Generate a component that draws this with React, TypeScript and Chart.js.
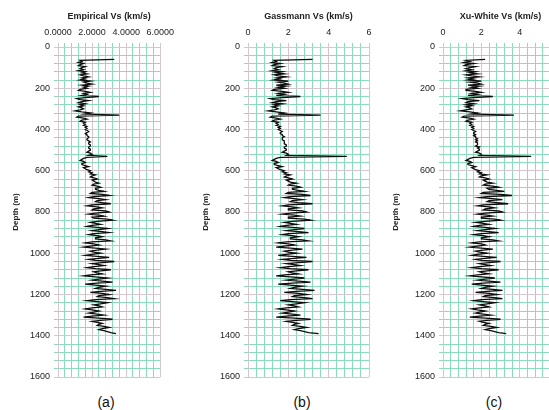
import React, { useEffect, useRef } from "react";
import { Chart, registerables } from "chart.js";

Chart.register(...registerables);

// Sampling depths (m): first sample and spacing of the logged traces
const DEPTH_START = 60;
const DEPTH_STEP = 5;

const DEPTH_TICKS = [0, 200, 400, 600, 800, 1000, 1200, 1400, 1600];
const VS_TICKS = [0, 2, 4, 6];

const PANEL_TITLES = ["Empirical Vs (km/s)", "Gassmann Vs (km/s)", "Xu-White Vs (km/s)"];
const PANEL_LETTERS = ["(a)", "(b)", "(c)"];

// Vs (km/s), 60 m .. 1390 m every 5 m (one row = 50 m)
const empiricalVs = [
  3.3, 1.3, 1.4, 1.2, 1.5, 1.3, 1.2, 1.6, 1.4, 1.3,
  1.5, 1.2, 1.6, 1.4, 1.7, 1.3, 1.5, 1.8, 1.4, 1.6,
  1.3, 1.9, 1.5, 1.7, 2.0, 1.4, 1.8, 1.5, 1.7, 1.3,
  1.2, 1.6, 1.9, 1.5, 1.7, 1.4, 2.4, 1.6, 1.1, 1.3,
  1.8, 1.4, 1.2, 1.6, 1.3, 1.5, 1.2, 1.4, 1.5, 1.3,
  1.0, 1.4, 1.9, 1.6, 3.6, 1.2, 1.1, 1.5, 1.7, 1.4,
  1.3, 1.6, 1.5, 1.6, 1.5, 1.7, 1.6, 1.7, 1.6, 1.7,
  1.8, 1.7, 1.6, 1.7, 1.7, 1.8, 1.8, 1.7, 1.7, 1.8,
  1.9, 1.8, 1.8, 1.9, 1.9, 1.8, 1.8, 1.9, 1.9, 1.8,
  1.7, 1.9, 2.0, 1.8, 2.9, 1.7, 1.5, 1.4, 1.3, 1.5,
  1.6, 1.4, 1.4, 1.6, 1.8, 1.5, 1.6, 1.7, 1.9, 1.8,
  2.0, 1.9, 2.2, 2.0, 1.9, 2.1, 2.3, 2.0, 2.1, 2.2,
  2.4, 2.1, 2.0, 2.3, 2.5, 2.2, 2.2, 2.4, 2.7, 2.0,
  1.9, 2.6, 3.0, 2.1, 1.8, 2.4, 2.8, 2.3, 2.2, 2.6,
  3.1, 2.0, 1.7, 2.3, 2.6, 2.1, 2.0, 2.8, 3.0, 2.2,
  1.8, 2.4, 2.7, 2.0, 2.1, 2.9, 3.2, 2.3, 1.9, 2.2,
  2.5, 2.0, 1.7, 2.3, 2.9, 2.4, 2.0, 2.6, 3.0, 2.1,
  1.8, 2.3, 2.6, 2.2, 2.2, 2.8, 3.1, 2.0, 1.6, 2.1,
  2.4, 1.9, 1.5, 2.2, 2.8, 2.3, 1.9, 2.1, 2.5, 2.0,
  1.6, 2.3, 3.0, 2.4, 1.8, 2.2, 3.3, 2.6, 2.0, 2.4,
  2.7, 2.1, 1.7, 2.2, 3.1, 2.5, 2.1, 2.3, 2.6, 1.9,
  1.5, 2.2, 2.9, 2.4, 2.0, 2.6, 3.2, 2.3, 1.6, 2.2,
  2.8, 2.4, 2.2, 2.8, 3.4, 2.5, 1.9, 2.6, 3.0, 2.4,
  2.3, 2.9, 3.3, 2.2, 1.7, 2.3, 2.9, 2.5, 2.1, 2.4,
  2.6, 2.0, 1.6, 2.0, 2.4, 2.1, 1.8, 2.3, 2.7, 2.0,
  1.5, 2.4, 3.2, 2.5, 2.0, 2.3, 2.6, 2.4, 2.3, 2.7,
  3.0, 2.6, 2.4, 2.7, 2.9, 3.1, 3.4,
];

const gassmannVs = [
  3.2, 1.3, 1.4, 1.2, 1.6, 1.3, 1.2, 1.7, 1.4, 1.3,
  1.5, 1.2, 1.7, 1.4, 1.8, 1.3, 1.5, 1.9, 1.4, 1.6,
  1.3, 2.0, 1.5, 1.8, 2.0, 1.4, 1.9, 1.5, 1.8, 1.3,
  1.2, 1.7, 2.0, 1.5, 1.8, 1.4, 2.6, 1.7, 1.1, 1.3,
  1.9, 1.4, 1.2, 1.7, 1.3, 1.5, 1.2, 1.4, 1.5, 1.3,
  1.0, 1.4, 1.8, 1.5, 3.6, 1.2, 1.1, 1.4, 1.6, 1.3,
  1.2, 1.5, 1.4, 1.5, 1.4, 1.6, 1.5, 1.6, 1.5, 1.6,
  1.7, 1.6, 1.6, 1.7, 1.7, 1.8, 1.7, 1.7, 1.7, 1.8,
  1.8, 1.8, 1.8, 1.9, 1.9, 1.8, 1.8, 1.9, 1.9, 1.8,
  1.7, 1.9, 2.0, 1.9, 4.9, 1.6, 1.4, 1.3, 1.2, 1.4,
  1.5, 1.3, 1.3, 1.5, 1.7, 1.4, 1.5, 1.6, 1.8, 1.7,
  1.9, 1.8, 2.1, 1.9, 1.8, 2.0, 2.2, 1.9, 2.0, 2.1,
  2.4, 2.1, 2.0, 2.4, 2.6, 2.2, 2.2, 2.5, 2.8, 2.0,
  1.9, 2.7, 3.1, 2.1, 1.8, 2.3, 2.7, 2.2, 2.1, 2.5,
  3.2, 2.0, 1.7, 2.2, 2.5, 2.0, 2.0, 2.7, 2.9, 2.1,
  1.7, 2.3, 2.6, 2.0, 2.0, 2.8, 3.1, 2.2, 1.8, 2.1,
  2.4, 1.9, 1.6, 2.2, 2.8, 2.3, 1.9, 2.5, 3.0, 2.0,
  1.7, 2.2, 2.5, 2.1, 2.1, 2.7, 3.0, 1.9, 1.5, 2.0,
  2.3, 1.8, 1.4, 2.1, 2.7, 2.2, 1.8, 2.0, 2.4, 1.9,
  1.5, 2.2, 2.9, 2.3, 1.7, 2.1, 3.2, 2.5, 1.9, 2.3,
  2.6, 2.0, 1.6, 2.1, 3.0, 2.4, 2.0, 2.2, 2.5, 1.8,
  1.4, 2.1, 2.8, 2.3, 1.9, 2.5, 3.1, 2.2, 1.5, 2.1,
  2.7, 2.3, 2.1, 2.7, 3.3, 2.4, 1.8, 2.5, 2.9, 2.3,
  2.2, 2.8, 3.2, 2.1, 1.6, 2.2, 2.8, 2.4, 2.0, 2.3,
  2.5, 1.9, 1.5, 1.9, 2.3, 2.0, 1.7, 2.2, 2.6, 1.9,
  1.4, 2.3, 3.1, 2.4, 1.9, 2.2, 2.5, 2.3, 2.2, 2.6,
  2.9, 2.5, 2.3, 2.6, 2.8, 3.0, 3.5,
];

const xuWhiteVs = [
  2.2, 1.2, 1.4, 1.1, 1.6, 1.2, 1.1, 1.7, 1.4, 1.2,
  1.5, 1.2, 1.7, 1.4, 1.8, 1.2, 1.5, 1.9, 1.3, 1.6,
  1.3, 2.0, 1.4, 1.8, 2.0, 1.3, 1.9, 1.5, 1.8, 1.2,
  1.2, 1.7, 2.0, 1.5, 1.8, 1.3, 2.6, 1.6, 1.0, 1.3,
  1.9, 1.3, 1.2, 1.6, 1.2, 1.5, 1.2, 1.4, 1.5, 1.2,
  0.9, 1.4, 1.8, 1.5, 3.7, 1.1, 1.0, 1.4, 1.6, 1.3,
  1.2, 1.5, 1.4, 1.5, 1.4, 1.6, 1.5, 1.6, 1.5, 1.6,
  1.7, 1.6, 1.6, 1.7, 1.6, 1.7, 1.7, 1.8, 1.7, 1.8,
  1.7, 1.8, 1.8, 1.8, 1.7, 1.9, 1.8, 1.9, 1.9, 1.8,
  1.7, 1.9, 2.0, 1.9, 4.6, 1.6, 1.4, 1.3, 1.2, 1.4,
  1.5, 1.3, 1.3, 1.5, 1.7, 1.5, 1.6, 1.7, 1.9, 1.8,
  2.0, 1.9, 2.3, 2.0, 1.9, 2.2, 2.4, 2.1, 2.2, 2.3,
  2.6, 2.2, 2.1, 2.6, 2.9, 2.3, 2.4, 2.8, 3.2, 2.1,
  2.0, 3.0, 3.6, 2.3, 1.9, 2.6, 3.1, 2.4, 2.3, 2.8,
  3.4, 2.1, 1.8, 2.4, 2.7, 2.2, 2.1, 2.9, 3.1, 2.2,
  1.8, 2.3, 2.6, 2.0, 2.0, 2.7, 3.0, 2.2, 1.7, 2.1,
  2.4, 1.9, 1.6, 2.2, 2.7, 2.2, 1.8, 2.4, 2.9, 2.0,
  1.6, 2.1, 2.4, 2.0, 2.0, 2.6, 2.9, 1.9, 1.5, 2.0,
  2.2, 1.8, 1.4, 2.0, 2.6, 2.1, 1.7, 1.9, 2.3, 1.8,
  1.5, 2.1, 2.8, 2.2, 1.7, 2.0, 3.0, 2.4, 1.9, 2.2,
  2.5, 1.9, 1.5, 2.0, 2.9, 2.3, 1.9, 2.1, 2.4, 1.8,
  1.4, 2.0, 2.7, 2.2, 1.8, 2.4, 3.0, 2.1, 1.5, 2.0,
  2.6, 2.2, 2.0, 2.6, 3.1, 2.3, 1.7, 2.4, 2.8, 2.2,
  2.1, 2.7, 3.1, 2.0, 1.6, 2.1, 2.7, 2.3, 1.9, 2.2,
  2.4, 1.9, 1.5, 1.8, 2.2, 1.9, 1.7, 2.1, 2.5, 1.9,
  1.4, 2.2, 3.0, 2.3, 1.9, 2.1, 2.4, 2.2, 2.1, 2.5,
  2.8, 2.4, 2.2, 2.5, 2.7, 2.9, 3.3,
];

const SERIES = [empiricalVs, gassmannVs, xuWhiteVs];

const MINOR = "rgb(138,220,188)";
const MAJOR = "rgb(214,198,206)";
const FONT = "'Liberation Sans', Arial, sans-serif";

type PanelCfg = {
  left: number;
  width: number;
  axisW: number;
  padRight: number;
  decimals: number;
  letterX: number;
};

const PANELS: PanelCfg[] = [
  { left: 0, width: 179, axisW: 58, padRight: 16, decimals: 4, letterX: 106 },
  { left: 190, width: 187, axisW: 58, padRight: 8, decimals: 0, letterX: 302 },
  { left: 380, width: 186, axisW: 63, padRight: 8, decimals: 0, letterX: 494 },
];

const CANVAS_H = 390;

function near(v: number, list: number[]) {
  return list.some((t) => Math.abs(t - v) < 1e-6);
}

function Panel({ idx }: { idx: number }) {
  const ref = useRef<HTMLCanvasElement | null>(null);
  const cfg = PANELS[idx];
  useEffect(() => {
    if (!ref.current) return;
    const values = SERIES[idx];
    const pts = values.map((v, i) => ({ x: v, y: DEPTH_START + i * DEPTH_STEP }));
    const chart = new Chart(ref.current, {
      type: "scatter",
      data: {
        datasets: [
          {
            data: pts,
            showLine: true,
            borderColor: "#0d0d0d",
            borderWidth: 1.3,
            pointRadius: 0,
            pointHoverRadius: 0,
          },
        ],
      },
      options: {
        animation: false,
        responsive: false,
        maintainAspectRatio: false,
        devicePixelRatio: 1,
        layout: { padding: { left: 0, top: 0, right: cfg.padRight, bottom: 13 } },
        plugins: { legend: { display: false }, tooltip: { enabled: false } },
        events: [],
        scales: {
          x: {
            type: "linear",
            position: "top",
            min: 0,
            max: 6,
            afterFit: (s: any) => {
              s.height = 47;
            },
            ticks: {
              stepSize: 0.4,
              autoSkip: false,
              maxTicksLimit: 100,
              maxRotation: 0,
              minRotation: 0,
              padding: 5,
              color: "#222",
              font: { family: FONT, size: 9 },
              callback: (v: any) => (near(Number(v), VS_TICKS) ? Number(v).toFixed(cfg.decimals) : ""),
            },
            grid: {
              color: (c: any) => (c.tick && near(c.tick.value, VS_TICKS) ? MAJOR : MINOR),
              lineWidth: 1,
              tickLength: 4,
            },
            border: { display: true, color: MAJOR },
            title: {
              display: true,
              text: PANEL_TITLES[idx],
              color: "#222",
              font: { family: FONT, size: 9, weight: "bold" },
              padding: { top: 11, bottom: 0 },
            },
          },
          y: {
            type: "linear",
            position: "left",
            reverse: true,
            min: 0,
            max: 1600,
            afterFit: (s: any) => {
              s.width = cfg.axisW;
            },
            ticks: {
              stepSize: 40,
              autoSkip: false,
              maxTicksLimit: 100,
              padding: 4,
              color: "#222",
              font: { family: FONT, size: 9 },
              callback: (v: any) => (near(Number(v), DEPTH_TICKS) ? String(v) : ""),
            },
            grid: {
              color: (c: any) => (c.tick && near(c.tick.value, DEPTH_TICKS) ? MAJOR : MINOR),
              lineWidth: 1,
              tickLength: 4,
            },
            border: { display: true, color: MAJOR },
            title: {
              display: true,
              text: "Depth (m)",
              color: "#222",
              font: { family: FONT, size: 8, weight: "bold" },
              padding: { top: 11, bottom: 0 },
            },
          },
        },
      } as any,
    });
    return () => chart.destroy();
  }, [idx]);
  return (
    <canvas
      ref={ref}
      width={cfg.width}
      height={CANVAS_H}
      style={{ position: "absolute", left: cfg.left, top: 0, width: cfg.width, height: CANVAS_H }}
    />
  );
}

export default function App() {
  return (
    <div
      style={{
        position: "absolute",
        left: 0,
        top: 0,
        width: 549,
        height: 410,
        overflow: "hidden",
        background: "#fff",
      }}
    >
      {PANELS.map((_, i) => (
        <Panel key={i} idx={i} />
      ))}
      {PANELS.map((p, i) => (
        <div
          key={"l" + i}
          style={{
            position: "absolute",
            left: p.letterX - 20,
            top: 393,
            width: 40,
            textAlign: "center",
            fontFamily: FONT,
            fontSize: 14,
            lineHeight: "18px",
            color: "#111",
          }}
        >
          {PANEL_LETTERS[i]}
        </div>
      ))}
    </div>
  );
}
